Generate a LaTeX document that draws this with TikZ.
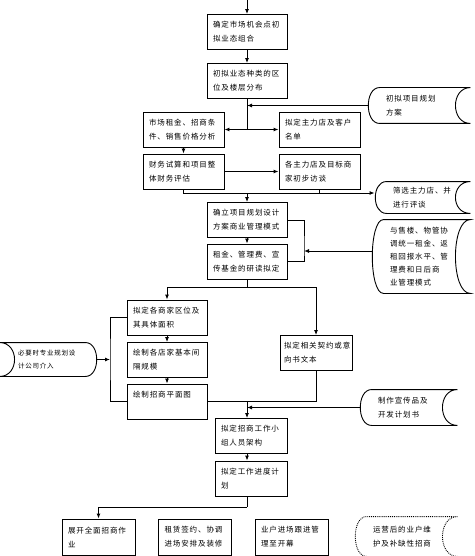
\documentclass[tikz,border=0pt]{standalone}
\usepackage{fontspec}
\newfontfamily\cjk[LetterSpace=12]{Noto Sans CJK SC}
\usetikzlibrary{arrows.meta, positioning}

\begin{document}
\begin{tikzpicture}
		[x=1pt, y=-1pt,
		line width=0.9pt,
		>={Latex[length=5pt,width=4pt]},
		font=\cjk\fontsize{7.5}{14}\selectfont,
		h/.style = {draw=black, rectangle, text width=#1, inner xsep=6pt, inner ysep=2pt, minimum height=35pt, align=left},
		h/.default = 68pt,
		st/.style 2 args = {rectangle, text width=#1, minimum height=#2, inner xsep=18pt, inner ysep=0pt, align=left}]
		
		\path[use as bounding box, clip] (0,0) rectangle (474,556);
		
		\coordinate (top) at (247,0);
		\node[h] (detm) at (247,32) {确定市场机会点初\\拟业态组合};
		\node[h] (dist) at (247,81) {初拟业态种类的区\\位及楼层分布};
		\node[h=69pt] (rent) at (183.5,129.5) {市场租金、招商条\\件、销售价格分析};
		\node[h=69pt] (anch) at (319.5,129.5) {拟定主力店及客户\\名单};
		\node[h=69pt] (fin) at (183.5,171.5) {财务试算和项目整\\体财务评估};
		\node[h=69pt] (talk) at (319.5,171.5) {各主力店及目标商\\家初步访谈};
		\node[h] (mode) at (247,220) {确立项目规划设计\\方案商业管理模式};
		\node[h] (fee) at (247,261.5) {租金、管理费、宣\\传基金的研读拟定};
		\node[h] (area) at (167,317.5) {拟定各商家区位及\\其具体面积};
		\node[h] (size) at (167,360) {绘制各店家基本间\\隔规模};
		\node[h] (plan) at (167,401.5) {绘制招商平面图\\\mbox{}};
		\node[h=64pt, inner xsep=4pt] (deal) at (316,353) {拟定相关契约或意\\向书文本};
		\node[h=60pt] (team) at (251,436) {拟定招商工作小\\组人员架构};
		\node[h=60pt] (prog) at (251,478.5) {拟定工作进度计\\划};
		\foreach \x/\nm/\txt in {
			98.5/bid/{展开全面招商作\\业},
			195/lease/{租赁签约、协调\\进场安排及装修},
			291.5/open/{业户进场跟进管\\理至开幕}}
		{
			\node[h=61pt, minimum height=36pt] (\nm) at (\x,537) {\txt};
		}
		
		% side notes
		\node[st={66pt}{35pt}] (prop) at (419,105.5) {初拟项目规划\\方案};
		\node[st={59pt}{31pt}] (scrn) at (422.5,197.5) {筛选主力店、并\\进行评谈};
		\node[st={62pt}{73pt}, font=\cjk\fontsize{7.5}{13}\selectfont] (sync) at (421,256.5) {与售楼、物管协\\调统一租金、返\\租回报水平、管\\理费和日后商\\业管理模式};
		\node[st={61pt}{35pt}] (promo) at (408.5,407.5) {制作宣传品及\\开发计划书};
		\node[st={66pt}{39pt}] (serv) at (406,536.5) {运营后的业户维\\护及补缺性招商};
		\node[st={61pt}{33pt}, font=\cjk\fontsize{6.5}{13}\selectfont] (help) at (48.5,359.5) {必要时专业规划设\\计公司介入};
		
		\foreach \n in {prop, scrn, sync, promo}
		{
			\draw (\n.north east) -- ([xshift=12]\n.north west) .. controls ([xshift=-3]\n.north west) and ([xshift=-3]\n.south west) .. ([xshift=12]\n.south west) -- (\n.south east) .. controls ([xshift=-20]\n.south east) and ([xshift=-20]\n.north east) .. cycle;
		}
		\draw[densely dotted] (serv.north east) -- ([xshift=12]serv.north west) .. controls ([xshift=-3]serv.north west) and ([xshift=-3]serv.south west) .. ([xshift=12]serv.south west) -- (serv.south east) .. controls ([xshift=-20]serv.south east) and ([xshift=-20]serv.north east) .. cycle;
		\draw (help.north west) -- ([xshift=-12]help.north east) .. controls ([xshift=3]help.north east) and ([xshift=3]help.south east) .. ([xshift=-12]help.south east) -- (help.south west) .. controls ([xshift=20]help.south west) and ([xshift=20]help.north west) .. cycle;
		
		\draw[->] (top) -- (detm);
		\draw[->] (detm) -- (dist);
		\coordinate (sp1) at (247,129.5);
		\draw (dist) -- (sp1);
		\draw[->] (prop.west) -- (prop.west -| sp1);
		\draw[->] (sp1) -- (rent);
		\draw[->] (sp1) -- (anch);
		\draw[->] (rent) -- (fin);
		\draw[->] (fin) -- (talk);
		
		\coordinate (sp2) at (247,193);
		\draw (fin.south) |- (talk.south |- sp2) -- (talk.south);
		\draw[->] (talk.south |- sp2) -- (scrn.west |- sp2);
		\draw[->] (sp2) -- (mode);
		\draw[->] (mode) -- (fee);
		\coordinate (br1) at (304,251);
		\draw (mode.east) -| (br1) |- (fee.east);
		\draw[->] (sync.west |- br1) -- (br1);
		
		\coordinate (sp3) at (247,287);
		\draw (fee) -- (sp3);
		\draw[->] (sp3) -| (area.north);
		\draw[->] (sp3) -| (deal.north);
		\draw[->] (area) -- (size);
		\draw[->] (size) -- (plan);
		\coordinate (br2) at (110,359.5);
		\draw (area.west) -| (br2) |- (plan.west);
		\draw[->] (help.east) -- (br2);
		
		\coordinate (sp4) at (247,401.5);
		\draw (plan.east) -| (deal.south);
		\draw[->] (sp4) -- (team.north -| sp4);
		\draw[->] (promo.west) -- (promo.west -| sp4);
		\draw[->] (team.south -| sp4) -- (prog.north -| sp4);
		\coordinate (sp5) at (247,507);
		\draw (prog.south -| sp4) -- (sp5);
		\draw[->] (sp5) -| (bid.north);
		
	\end{tikzpicture}
\end{document}
